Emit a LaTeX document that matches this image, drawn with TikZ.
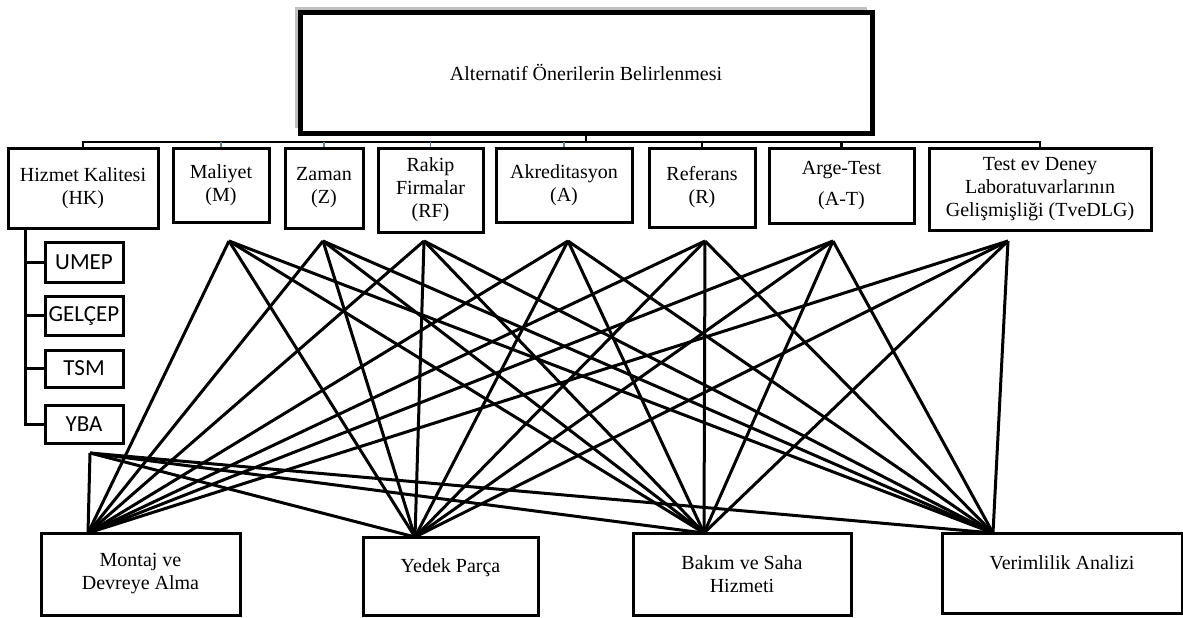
\documentclass[tikz,border=0pt]{standalone}
\usepackage{fontspec}
\setmainfont{Liberation Serif}
\newfontfamily\calibri{Carlito}
\usetikzlibrary{shadows}
\definecolor{stubblue}{RGB}{79,129,189}
\begin{document}
\begin{tikzpicture}[x=0.5pt,y=-0.5pt,box/.style={shape=rectangle,draw=black,line width=1.5pt,align=center,inner sep=1pt,font=\fontsize{10}{11.5}\selectfont},goal/.style={box,fill=white,line width=2.5pt,drop shadow={shadow xshift=-2.5pt,shadow yshift=2.5pt,fill=gray,opacity=0.5}},sub/.style={box,font=\calibri\fontsize{11.5}{13}\selectfont},bus/.style={line width=1.3pt},stub/.style={line width=0.7pt,draw=stubblue},link/.style={line width=1.5pt}]
\useasboundingbox (0,0) rectangle (1183,617);

\node[goal,minimum width=286pt,minimum height=60.5pt] (T) at (586,72.5) {Alternatif Önerilerin Belirlenmesi};

\node[box,minimum width=75pt,minimum height=40pt] (HK) at (83,188) {Hizmet Kalitesi\\(HK)};
\node[box,minimum width=48pt,minimum height=37pt] (M) at (221,185) {Maliyet\\(M)};
\node[box,minimum width=39pt,minimum height=40pt] (Z) at (324,188) {Zaman\\(Z)};
\node[box,minimum width=52.5pt,minimum height=42pt] (RF) at (430.5,190) {Rakip\\Firmalar\\(RF)};
\node[box,minimum width=68pt,minimum height=37pt] (A) at (564,185) {Akreditasyon\\(A)};
\node[box,minimum width=53pt,minimum height=39.5pt] (R) at (702,187.5) {Referans\\(R)};
\node[box,minimum width=72.5pt,minimum height=37.5pt] (AT) at (841.5,185.5) {Arge-Test\\[4pt](A-T)};
\node[box,minimum width=111pt,minimum height=41pt] (TvD) at (1040,189) {Test ev Deney\\Laboratuvarlarının\\Gelişmişliği (TveDLG)};

\coordinate (bs) at (0,142);
\draw[bus] (T.south) -- (T.south |- bs);
\draw[bus] (HK.north) |- (bs -| TvD.north) -- (TvD.north);
\foreach \c in {R,AT} \draw[bus] (\c.north) -- (\c.north |- bs);
\foreach \c in {M,Z,RF,A} \draw[stub] (\c.north) -- (\c.north |- bs);

\node[sub,minimum width=39pt,minimum height=20pt] (U) at (84,262) {UMEP};
\node[sub,minimum width=39pt,minimum height=19.5pt] (G) at (84,315.5) {GELÇEP};
\node[sub,minimum width=39pt,minimum height=18.5pt] (TS) at (84,368.5) {TSM};
\node[sub,minimum width=39pt,minimum height=19pt] (Y) at (84,424) {YBA};
\coordinate (hkl) at (25,228);
\draw[link] (hkl) |- (Y.west);
\foreach \s in {U,G,TS} \draw[link] (hkl |- \s.west) -- (\s.west);

\node[box,minimum width=99.5pt,minimum height=41pt] (MD) at (140.5,574) {Montaj ve\\Devreye Alma};
\node[box,minimum width=87.5pt,minimum height=39pt,text depth=10pt] (YP) at (450.5,576) {Yedek Parça};
\node[box,minimum width=109pt,minimum height=41pt] (BS) at (742,574) {Bakım ve Saha\\Hizmeti};
\node[box,minimum width=120pt,minimum height=40pt,text depth=10pt] (VA) at (1062,573) {Verimlilik Analizi};

\coordinate (pHK) at (90,453);
\coordinate (pM) at (229,241);
\coordinate (pZ) at (323,241);
\coordinate (pRF) at (424,241);
\coordinate (pA) at (568,241);
\coordinate (pR) at (705,241);
\coordinate (pAT) at (833,241);
\coordinate (pTv) at (1008,241);
\coordinate (qMD) at (88,533);
\coordinate (qYP) at (415,537);
\coordinate (qBS) at (704,533);
\coordinate (qVA) at (993,533);

\foreach \p in {pHK,pM,pZ,pRF,pA,pR,pAT,pTv}
  \foreach \q in {qMD,qYP,qBS,qVA}
    \draw[link] (\p) -- (\q);
\end{tikzpicture}
\end{document}
